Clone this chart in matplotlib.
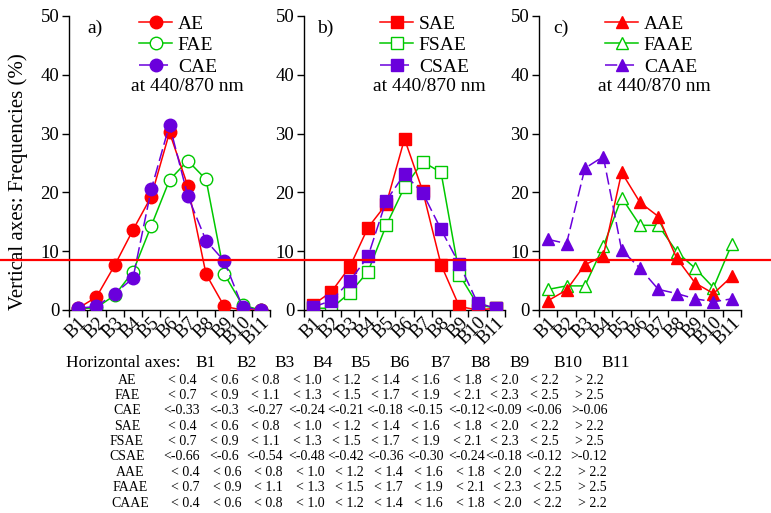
import numpy as np
import matplotlib
matplotlib.use("Agg")
import matplotlib.pyplot as plt
from matplotlib.transforms import blended_transform_factory
from matplotlib.lines import Line2D

plt.rcParams['font.family'] = ['Liberation Serif', 'DejaVu Serif']

bins = ['B1', 'B2', 'B3', 'B4', 'B5', 'B6', 'B7', 'B8', 'B9', 'B10', 'B11']

# panel a) Angstrom exponent
ae = [0.3, 2.2, 7.6, 13.6, 19.3, 30.2, 21.1, 6.1, 0.6, 0.0, 0.0]
fae = [0.2, 0.4, 2.5, 6.5, 14.3, 22.1, 25.4, 22.2, 6.1, 0.8, 0.0]
cae = [0.3, 0.6, 2.8, 5.4, 20.5, 31.5, 19.4, 11.8, 8.3, 0.5, 0.0]

# panel b) scattering Angstrom exponent
sae = [0.9, 3.1, 7.3, 14.0, 18.0, 29.1, 20.2, 7.7, 0.6, 0.0, 0.3]
fsae = [0.3, 0.3, 2.9, 6.5, 14.4, 20.9, 25.2, 23.4, 6.0, 0.9, 0.3]
csae = [0.5, 1.6, 4.9, 9.1, 18.6, 23.1, 19.9, 13.7, 7.8, 1.2, 0.3]

# panel c) absorption Angstrom exponent
aae = [1.6, 3.4, 7.7, 9.2, 23.4, 18.3, 15.9, 8.8, 4.6, 2.8, 5.7]
faae = [3.5, 4.1, 4.1, 10.8, 19.1, 14.4, 14.4, 9.9, 7.1, 3.8, 11.2]
caae = [12.0, 11.3, 24.1, 26.1, 10.2, 7.1, 3.5, 2.8, 1.9, 1.4, 1.9]

threshold = 8.5

row_names = ['AE', 'FAE', 'CAE', 'SAE', 'FSAE', 'CSAE', 'AAE', 'FAAE', 'CAAE']
row_values = [
    ['< 0.4', '< 0.6', '< 0.8', '< 1.0', '< 1.2', '< 1.4', '< 1.6', '< 1.8', '< 2.0', '< 2.2', '> 2.2'],
    ['< 0.7', '< 0.9', '< 1.1', '< 1.3', '< 1.5', '< 1.7', '< 1.9', '< 2.1', '< 2.3', '< 2.5', '> 2.5'],
    ['<-0.33', '<-0.3', '<-0.27', '<-0.24', '<-0.21', '<-0.18', '<-0.15', '<-0.12', '<-0.09', '<-0.06', '>-0.06'],
    ['< 0.4', '< 0.6', '< 0.8', '< 1.0', '< 1.2', '< 1.4', '< 1.6', '< 1.8', '< 2.0', '< 2.2', '> 2.2'],
    ['< 0.7', '< 0.9', '< 1.1', '< 1.3', '< 1.5', '< 1.7', '< 1.9', '< 2.1', '< 2.3', '< 2.5', '> 2.5'],
    ['<-0.66', '<-0.6', '<-0.54', '<-0.48', '<-0.42', '<-0.36', '<-0.30', '<-0.24', '<-0.18', '<-0.12', '>-0.12'],
    ['< 0.4', '< 0.6', '< 0.8', '< 1.0', '< 1.2', '< 1.4', '< 1.6', '< 1.8', '< 2.0', '< 2.2', '> 2.2'],
    ['< 0.7', '< 0.9', '< 1.1', '< 1.3', '< 1.5', '< 1.7', '< 1.9', '< 2.1', '< 2.3', '< 2.5', '> 2.5'],
    ['< 0.4', '< 0.6', '< 0.8', '< 1.0', '< 1.2', '< 1.4', '< 1.6', '< 1.8', '< 2.0', '< 2.2', '> 2.2'],
]

RED = '#ff0000'
GREEN = '#00c800'
PURPLE = '#6a00dc'

W, H = 771, 513
fig = plt.figure(figsize=(W / 100, H / 100), dpi=100)


def px_axes(x0, x1, y0, y1):
    return fig.add_axes([x0 / W, 1 - y1 / H, (x1 - x0) / W, (y1 - y0) / H])


panels = [
    (px_axes(69, 270, 16, 310), 'o', 9, [('AE', ae), ('FAE', fae), ('CAE', cae)], 'a)', 87, 139, 187),
    (px_axes(304, 505, 16, 310), 's', 8, [('SAE', sae), ('FSAE', fsae), ('CSAE', csae)], 'b)', 317, 380, 429),
    (px_axes(539, 741, 16, 310), '^', 9, [('AAE', aae), ('FAAE', faae), ('CAAE', caae)], 'c)', 553, 605, 654),
]

x = np.arange(1, len(bins) + 1)
for ax, mk, ms, series, tag, tag_x, leg_x, note_x in panels:
    (n1, s1), (n2, s2), (n3, s3) = series
    ax.plot(x, s1, color=RED, marker=mk, ms=ms, lw=1.1, mfc=RED, mec=RED, label=n1, zorder=3)
    ax.plot(x, s2, color=GREEN, marker=mk, ms=ms, lw=1.1, mfc='white', mec=GREEN, label=n2, zorder=2)
    ax.plot(x, s3, color=PURPLE, marker=mk, ms=ms, lw=1.1, ls=(0, (8, 3)), mfc=PURPLE, mec=PURPLE,
            label=n3, zorder=4)
    ax.set_xlim(0.5, 11.5)
    ax.set_ylim(0, 50)
    ax.set_yticks([0, 10, 20, 30, 40, 50])
    ax.set_xticks(x)
    ax.set_xticklabels(bins, rotation=45, ha='right', rotation_mode='anchor', fontsize=13.5)
    ax.set_xticks(np.arange(0.5, 12, 1), minor=True)
    ax.tick_params(axis='x', which='major', length=0, pad=3)
    ax.tick_params(axis='x', which='minor', length=5, width=1, direction='out')
    ax.tick_params(axis='y', length=5, width=1, labelsize=13.5, pad=2)
    for side in ['top', 'right']:
        ax.spines[side].set_visible(False)
    for side in ['left', 'bottom']:
        ax.spines[side].set_linewidth(1)
    ax.patch.set_alpha(0)
    ax.legend(loc='upper left', bbox_to_anchor=(leg_x / W, 1 - 15 / H), bbox_transform=fig.transFigure,
              frameon=False, fontsize=14, handlelength=1.7, handletextpad=0.3, labelspacing=0.2,
              borderpad=0, borderaxespad=0)
    fig.text(tag_x / W, 1 - 28 / H, tag, fontsize=14, ha='left', va='center')
    fig.text(note_x / W, 1 - 87 / H, 'at 440/870 nm', fontsize=14, ha='center', va='center')

# threshold line across the whole figure
tr = blended_transform_factory(fig.transFigure, panels[0][0].transData)
fig.add_artist(Line2D([0, 1], [threshold, threshold], transform=tr, color=RED, lw=1.6, zorder=10))

fig.text(18 / W, 1 - 182 / H, 'Vertical axes: Frequencies (%)', rotation=90, fontsize=15,
         ha='center', va='center')

# table of bin definitions
header_x = [206, 247, 285, 323, 361, 400, 441, 481, 520, 568, 616]
col_x = [182, 224, 265, 307, 346, 385, 425, 467, 504, 544, 589]
fig.text(66 / W, 1 - 363 / H, 'Horizontal axes:', fontsize=12.5, ha='left', va='center')
for b, hx in zip(bins, header_x):
    fig.text(hx / W, 1 - 363 / H, b, fontsize=12.5, ha='center', va='center')
for i, (name, vals) in enumerate(zip(row_names, row_values)):
    yy = 1 - (380 + i * 15.4) / H
    shift = 3 if i >= 6 else 0
    fig.text((127 + shift) / W, yy, name, fontsize=10, ha='center', va='center')
    for cx, v in zip(col_x, vals):
        fig.text((cx + shift) / W, yy, v, fontsize=10, ha='center', va='center')

fig.savefig('out.png', dpi=100)
